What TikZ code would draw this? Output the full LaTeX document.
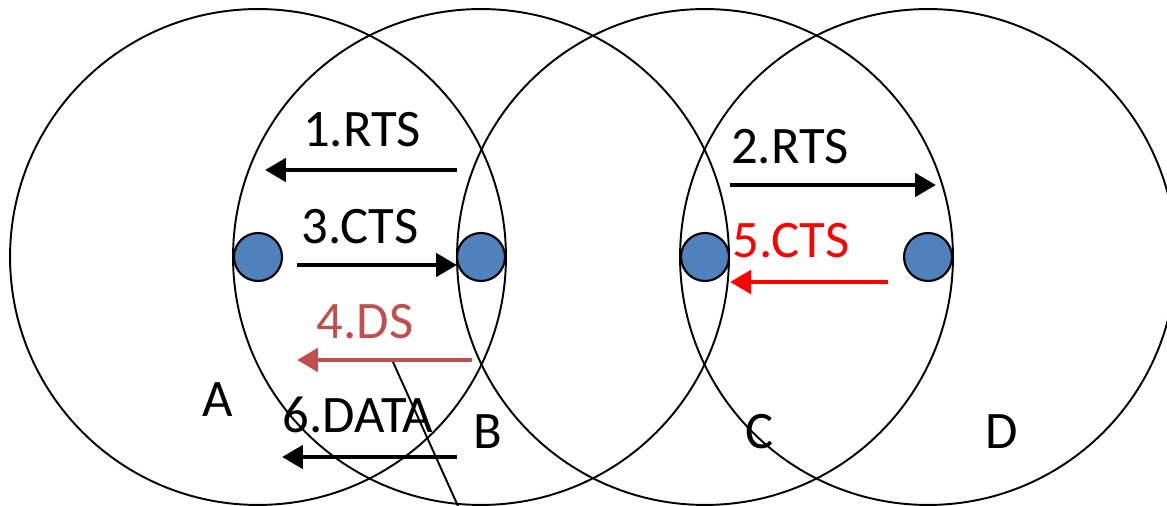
\documentclass[tikz,border=0pt]{standalone}
\usepackage{fontspec}
\setmainfont{Carlito}
\usetikzlibrary{arrows.meta}
\definecolor{nodeblue}{HTML}{4F81BD}
\definecolor{dsred}{HTML}{C0504D}

\begin{document}
\begin{tikzpicture}[x=0.02cm, y=-0.02cm,
  station/.style={circle, draw, line width=1.2pt, fill=nodeblue, minimum size=0.96cm, inner sep=0pt},
  coverage/.style={line width=1.1pt},
  msg/.style={-{Triangle[length=0.42cm,width=0.46cm]}, line width=2.8pt},
  lbl/.style={font=\fontsize{30}{36}\selectfont, inner sep=0pt}]
  \useasboundingbox (0,0) rectangle (1167,506);
  \clip (0,0) rectangle (1167,506);

  % station positions and their ranges
  \coordinate (pa) at (258,257);
  \coordinate (pb) at (481,257);
  \coordinate (pc) at (705,257);
  \coordinate (pd) at (928,257);
  \foreach \p in {pa,pb,pc,pd}
    \draw[coverage] (\p) circle[radius=4.96cm];

  \node[station] (a) at (pa) {};
  \node[station] (b) at (pb) {};
  \node[station] (c) at (pc) {};
  \node[station] (d) at (pd) {};

  \node[lbl] (la) at (218,400) {A};
  \node[lbl] (lb) at (488,432) {B};
  \node[lbl] (lc) at (760,432) {C};
  \node[lbl] (ld) at (1002,432) {D};

  % handshake messages
  \coordinate (rts1s) at (457,170);  \coordinate (rts1e) at (265,170);
  \coordinate (cts3s) at (297,265);  \coordinate (cts3e) at (457,265);
  \coordinate (ds4s)  at (472,360);  \coordinate (ds4e)  at (297,360);
  \coordinate (dat6s) at (457,457);  \coordinate (dat6e) at (282,457);
  \coordinate (rts2s) at (730,185);  \coordinate (rts2e) at (936,185);
  \coordinate (cts5s) at (888,282);  \coordinate (cts5e) at (730,282);

  \draw[msg] (rts1s) -- (rts1e);
  \draw[msg] (cts3s) -- (cts3e);
  \draw[msg, dsred] (ds4s) -- (ds4e);
  \draw[msg] (dat6s) -- (dat6e);
  \draw[msg] (rts2s) -- (rts2e);
  \draw[msg, red] (cts5s) -- (cts5e);

  \node[lbl] (m1) at (362,130) {1.RTS};
  \node[lbl] (m3) at (360,227) {3.CTS};
  \node[lbl, text=dsred] (m4) at (365,322) {4.DS};
  \node[lbl] (m6) at (358,415) {6.DATA};
  \node[lbl] (m2) at (790,147) {2.RTS};
  \node[lbl, text=red] (m5) at (791,241) {5.CTS};

  \coordinate (tick) at (393,362);
  \coordinate (tickend) at (458,506);
  \draw[line width=1.1pt] (tick) -- (tickend);
\end{tikzpicture}
\end{document}
